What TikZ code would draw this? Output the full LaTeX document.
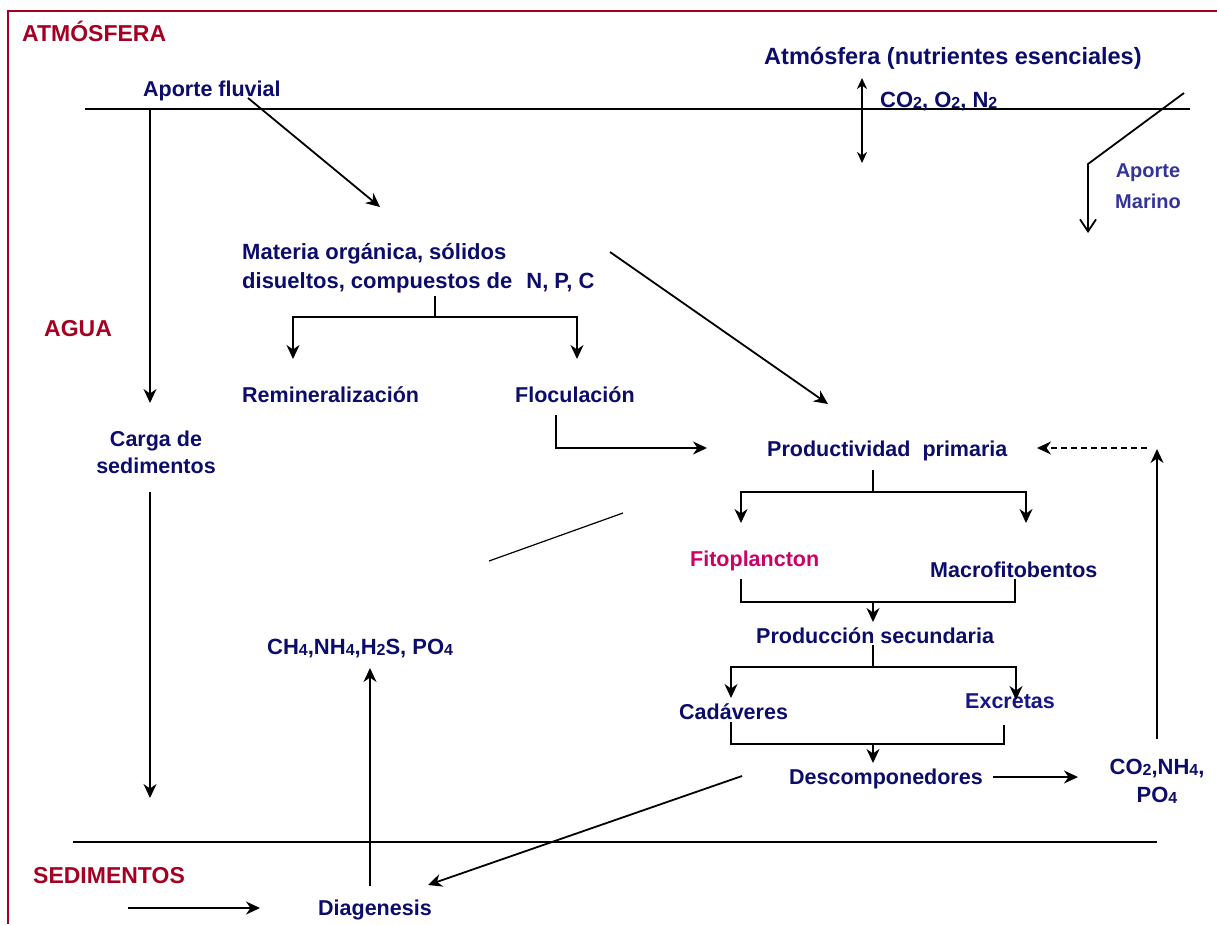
\documentclass[tikz,border=0pt]{standalone}
\usepackage{fontspec}
\setmainfont{Liberation Sans}
\usepackage{tikz}
\usetikzlibrary{arrows.meta}
\usepackage{color}
\definecolor{navy}{HTML}{0C0C6A}
\definecolor{zonered}{HTML}{A50021}
\definecolor{fitopink}{HTML}{CC0066}
\definecolor{marblue}{HTML}{333399}
\definecolor{excblue}{HTML}{16168A}
\newcommand{\chsub}[1]{\raisebox{-1pt}{\fontsize{16}{16}\selectfont #1}}

\tikzset{
  lbl/.style={inner sep=0pt, anchor=base west, text=navy, font=\bfseries\fontsize{21.5}{29}\selectfont},
  zone/.style={lbl, text=zonered, font=\bfseries\fontsize{23}{28}\selectfont},
  chem/.style={lbl, font=\bfseries\fontsize{22}{28}\selectfont},
  plain/.style={line width=1.8pt},
  flow/.style={plain, -{Stealth[length=14pt,width=13pt,inset=4.5pt]}},
}

\begin{document}
\begin{tikzpicture}[x=1pt,y=-1pt]
\useasboundingbox (0,0) rectangle (1217,924);
%frame and layer limits
\draw[zonered, line width=2pt] (8,924) -- (8,10.5) -- (1217,10.5);
\draw[plain] (85,109) -- (1190,109);
\draw[plain] (73,842) -- (1157,842);

%Labeling zones
\node[zone] (atmz) at (22,41) {ATMÓSFERA};
\node[zone] (agua) at (44,336) {AGUA};
\node[zone] (sedz) at (33,883) {SEDIMENTOS};

%Labeling boxes
\node[lbl] (fluv) at (143,96) {Aporte fluvial};
\node[lbl, font=\bfseries\fontsize{23.5}{28}\selectfont] (atmn) at (764,64) {Atmósfera (nutrientes esenciales)};
\node[chem] (gas) at (880,107) {CO\chsub2, O\chsub2, N\chsub2};
\node[lbl, anchor=center, align=center, text=marblue, font=\bfseries\fontsize{20}{31}\selectfont] (mar) at (1148,186) {Aporte\\Marino};
\node[lbl, anchor=north west, align=left, font=\bfseries\fontsize{22}{29}\selectfont] (mat) at (242,243) {Materia orgánica, sólidos\\disueltos, compuestos de\hspace{14pt}N, P, C};
\node[lbl] (rem) at (242,402) {Remineralización};
\node[lbl] (floc) at (515,402) {Floculación};
\node[lbl, anchor=center, align=center, font=\bfseries\fontsize{21.5}{27}\selectfont] (carga) at (156,452) {Carga de\\sedimentos};
\node[lbl] (prod) at (767,456) {Productividad~ primaria};
\node[lbl, text=fitopink] (fito) at (690,566) {Fitoplancton};
\node[lbl] (macro) at (930,577) {Macrofitobentos};
\node[lbl] (sec) at (756,643) {Producción secundaria};
\node[lbl] (cad) at (679,719) {Cadáveres};
\node[lbl, text=excblue] (exc) at (965,708) {Excretas};
\node[lbl] (desc) at (789,784) {Descomponedores};
\node[chem, anchor=center, align=center] (co2) at (1157,781) {CO\chsub2,NH\chsub4,\\PO\chsub4};
\node[chem] (ch4) at (267,654) {CH\chsub4,NH\chsub4,H\chsub2S, PO\chsub4};
\node[lbl] (diag) at (318,915) {Diagenesis};

%end points of the arrows
\coordinate (rio) at (150,109);
\coordinate (cargaN) at (150,403);
\coordinate (cargaS) at (150,492);
\coordinate (sedN) at (150,798);
\coordinate (fluvE) at (248,98);
\coordinate (matN) at (380,207);
\coordinate (matS) at (435,296);
\coordinate (matFork) at (435,317);
\coordinate (remN) at (293,359);
\coordinate (flocN) at (577,359);
\coordinate (flocS) at (556,415);
\coordinate (prodW) at (707,448);
\coordinate (matE) at (610,252);
\coordinate (prodN) at (828,404);
\coordinate (gasUp) at (862,78);
\coordinate (gasDn) at (862,163);
\coordinate (marTop) at (1184,93);
\coordinate (marBend) at (1088,164);
\coordinate (marIn) at (1088,233);
\coordinate (dashS) at (1147,448);
\coordinate (prodE) at (1037,448);
\coordinate (co2N) at (1157,739);
\coordinate (recycTip) at (1157,449);
\coordinate (prodS) at (873,470);
\coordinate (prodFork) at (873,492);
\coordinate (fitoN) at (741,523);
\coordinate (macroN) at (1026,523);
\coordinate (fitoS) at (741,579);
\coordinate (macroS) at (1015,579);
\coordinate (secFork) at (873,602);
\coordinate (secN) at (873,622);
\coordinate (secS) at (873,645);
\coordinate (secSplit) at (873,667);
\coordinate (cadN) at (731,698);
\coordinate (excN) at (1016,700);
\coordinate (cadS) at (731,722);
\coordinate (excS) at (1004,725);
\coordinate (descFork) at (873,744);
\coordinate (descN) at (873,763);
\coordinate (descE) at (993,777);
\coordinate (co2W) at (1078,777);
\coordinate (descW) at (742,776);
\coordinate (diagNE) at (428,885);
\coordinate (diagN) at (370,886);
\coordinate (ch4S) at (370,668);
\coordinate (sedIn) at (128,908);
\coordinate (diagW) at (260,908);
\coordinate (strayA) at (489,561);
\coordinate (strayB) at (623,513);

%Drawing the flows
\draw[flow] (rio) -- (cargaN);
\draw[flow] (cargaS) -- (sedN);
\draw[flow] (fluvE) -- (matN);
\draw[plain] (matS) -- (matFork);
\draw[flow] (matFork) -| (remN);
\draw[flow] (matFork) -| (flocN);
\draw[flow] (flocS) |- (prodW);
\draw[flow] (matE) -- (prodN);
\draw[plain, {Stealth[length=11pt,width=10pt,inset=3.5pt]}-{Stealth[length=11pt,width=10pt,inset=3.5pt]}] (gasUp) -- (gasDn);
\draw[plain, -{Straight Barb[length=12pt,width=16pt]}] (marTop) -- (marBend) -- (marIn);
\draw[flow, line width=1.2pt, dash pattern=on 6pt off 4pt] (dashS) -- (prodE);
\draw[flow] (co2N) -- (recycTip);
\draw[plain] (prodS) -- (prodFork);
\draw[flow] (prodFork) -| (fitoN);
\draw[flow] (prodFork) -| (macroN);
\draw[plain] (fitoS) |- (secFork) -| (macroS);
\draw[flow] (secFork) -- (secN);
\draw[plain] (secS) -- (secSplit);
\draw[flow] (secSplit) -| (cadN);
\draw[flow] (secSplit) -| (excN);
\draw[plain] (cadS) |- (descFork) -| (excS);
\draw[flow] (descFork) -- (descN);
\draw[flow] (descE) -- (co2W);
\draw[flow] (descW) -- (diagNE);
\draw[flow] (diagN) -- (ch4S);
\draw[flow] (sedIn) -- (diagW);
\draw[line width=1.2pt] (strayA) -- (strayB);
\end{tikzpicture}
\end{document}
